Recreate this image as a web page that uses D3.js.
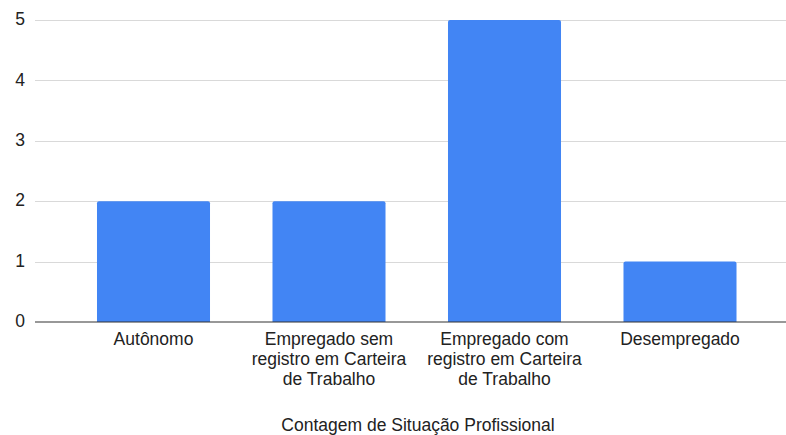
<!DOCTYPE html>
<meta charset="utf-8">
<script src="https://d3js.org/d3.v7.min.js"></script>
<style>
  body { margin: 0; background: #fff; }
  text { font-family: "Liberation Sans", Arial, sans-serif; fill: #222; }
</style>
<div id="chart"></div>
<script>
// data
var categories = ["Autônomo", "Empregado sem registro em Carteira de Trabalho", "Empregado com registro em Carteira de Trabalho", "Desempregado"];
var labelLines = [["Autônomo"], ["Empregado sem", "registro em Carteira", "de Trabalho"], ["Empregado com", "registro em Carteira", "de Trabalho"], ["Desempregado"]];
var counts = [2, 2, 5, 1];
var yTicks = [0, 1, 2, 3, 4, 5];
var xTitle = "Contagem de Situação Profissional";

var W = 786, H = 435;
var fs = "17.5px";

var svg = d3.select("#chart").append("svg")
  .attr("width", W)
  .attr("height", H);

var x = d3.scaleBand()
  .domain(categories)
  .range([65.75, 767.75])
  .paddingInner(0.356)
  .paddingOuter(0.178);

var y = d3.scaleLinear()
  .domain([0, 5])
  .range([322, 20]);

// gridlines
svg.append("g")
  .selectAll("line")
  .data(yTicks.filter(function(d) { return d > 0; }))
  .join("line")
    .attr("x1", 35)
    .attr("x2", W)
    .attr("y1", function(d) { return Math.round(y(d)) + 0.5; })
    .attr("y2", function(d) { return Math.round(y(d)) + 0.5; })
    .attr("stroke", "#d9d9d9")
    .attr("stroke-width", 1);

// y labels
svg.append("g")
  .selectAll("text")
  .data(yTicks)
  .join("text")
    .attr("x", 25)
    .attr("y", function(d) { return y(d); })
    .attr("dy", "0.3em")
    .attr("text-anchor", "end")
    .style("font-size", fs)
    .text(function(d) { return d; });

// bars
function barPath(x0, y0, w, h, r) {
  return "M" + x0 + "," + (y0 + h) +
    "V" + (y0 + r) +
    "Q" + x0 + "," + y0 + " " + (x0 + r) + "," + y0 +
    "H" + (x0 + w - r) +
    "Q" + (x0 + w) + "," + y0 + " " + (x0 + w) + "," + (y0 + r) +
    "V" + (y0 + h) + "Z";
}

svg.append("g")
  .selectAll("path")
  .data(counts)
  .join("path")
    .attr("fill", "#4285f4")
    .attr("d", function(d, i) {
      var top = y(d);
      return barPath(x(categories[i]), top, x.bandwidth(), y(0) - top, 2);
    });

// baseline
svg.append("line")
  .attr("x1", 35)
  .attr("x2", W)
  .attr("y1", 322)
  .attr("y2", 322)
  .attr("stroke", "#333")
  .attr("stroke-width", 1.2);

// x labels
var xl = svg.append("g")
  .selectAll("text")
  .data(categories)
  .join("text")
    .attr("x", function(d) { return x(d) + x.bandwidth() / 2; })
    .attr("y", 345)
    .attr("text-anchor", "middle")
    .style("font-size", fs);

xl.selectAll("tspan")
  .data(function(d, i) { return labelLines[i]; })
  .join("tspan")
    .attr("x", function() { return d3.select(this.parentNode).attr("x"); })
    .attr("dy", function(d, j) { return j === 0 ? 0 : 20; })
    .text(function(d) { return d; });

// axis title
svg.append("text")
  .attr("x", 418)
  .attr("y", 431)
  .attr("text-anchor", "middle")
  .style("font-size", fs)
  .text(xTitle);
</script>
